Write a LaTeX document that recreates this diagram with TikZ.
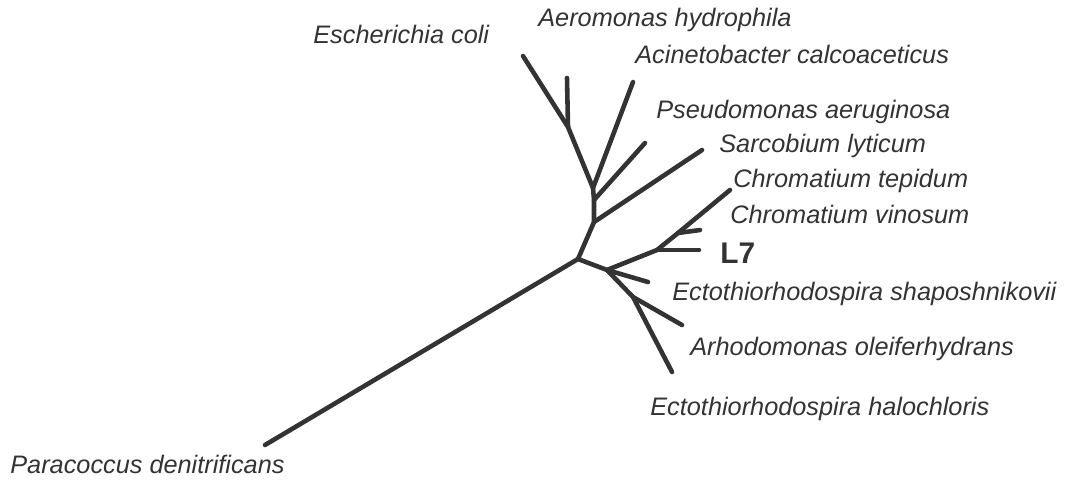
\documentclass[tikz,border=0pt]{standalone}
\usepackage{fontspec}
\setmainfont{Liberation Sans}
\definecolor{ink}{HTML}{333333}

\begin{document}
\begin{tikzpicture}[x=0.02cm, y=-0.02cm, ink,
    branch/.style={line width=2.6pt, line cap=round, line join=round},
    taxon/.style={inner sep=0pt, anchor=base west, font=\fontsize{14.4}{17}\selectfont\itshape},
    every node/.style={text=ink}]
                \useasboundingbox (0,0) rectangle (1071,490);

                % Knoten des Baums
                \coordinate (M) at (578,259);
                \coordinate (S) at (594,222);
                \coordinate (P) at (594,200);
                \coordinate (C) at (593,188);
                \coordinate (J) at (568,127);
                \coordinate (D) at (607,270);
                \coordinate (E) at (657,250);
                \coordinate (F) at (678,233);
                \coordinate (G) at (633,297);

                % Blattenden
                \coordinate (tEcoli) at (523,56);
                \coordinate (tAero) at (567,78);
                \coordinate (tAcin) at (633,82);
                \coordinate (tPseu) at (645,143);
                \coordinate (tSarc) at (702,150);
                \coordinate (tTepi) at (730,190);
                \coordinate (tVino) at (700,230);
                \coordinate (tLseven) at (699,250);
                \coordinate (tShap) at (648,282);
                \coordinate (tArho) at (682,325);
                \coordinate (tHalo) at (672,372);
                \coordinate (tPara) at (265,445);

                % obere Gruppe
                \draw[branch] (M) -- (S) -- (P) -- (C) -- (J) -- (tEcoli);
                \draw[branch] (J) -- (tAero);
                \draw[branch] (C) -- (tAcin);
                \draw[branch] (P) -- (tPseu);
                \draw[branch] (S) -- (tSarc);

                % rechte Gruppe
                \draw[branch] (M) -- (D) -- (E) -- (F) -- (tTepi);
                \draw[branch] (F) -- (tVino);
                \draw[branch] (E) -- (tLseven);
                \draw[branch] (D) -- (tShap);
                \draw[branch] (D) -- (G) -- (tHalo);
                \draw[branch] (G) -- (tArho);

                % Wurzel
                \draw[branch] (M) -- (tPara);

                % Namen
                \node[taxon] (ecoli) at (313,43) {Escherichia coli};
                \node[taxon] (aero) at (538,27) {Aeromonas hydrophila};
                \node[taxon] (acin) at (635,63) {Acinetobacter calcoaceticus};
                \node[taxon] (pseu) at (656,118) {Pseudomonas aeruginosa};
                \node[taxon] (sarc) at (719,152) {Sarcobium lyticum};
                \node[taxon] (tepi) at (733,187) {Chromatium tepidum};
                \node[taxon] (vino) at (730,223) {Chromatium vinosum};
                \node[inner sep=0pt, anchor=base west, font=\fontsize{17}{20}\selectfont\bfseries] (lseven) at (720,263) {L7};
                \node[taxon] (shap) at (672,300) {Ectothiorhodospira shaposhnikovii};
                \node[taxon] (arho) at (690,355) {Arhodomonas oleiferhydrans};
                \node[taxon] (halo) at (650,415) {Ectothiorhodospira halochloris};
                \node[taxon] (para) at (10,473) {Paracoccus denitrificans};
            \end{tikzpicture}
\end{document}
